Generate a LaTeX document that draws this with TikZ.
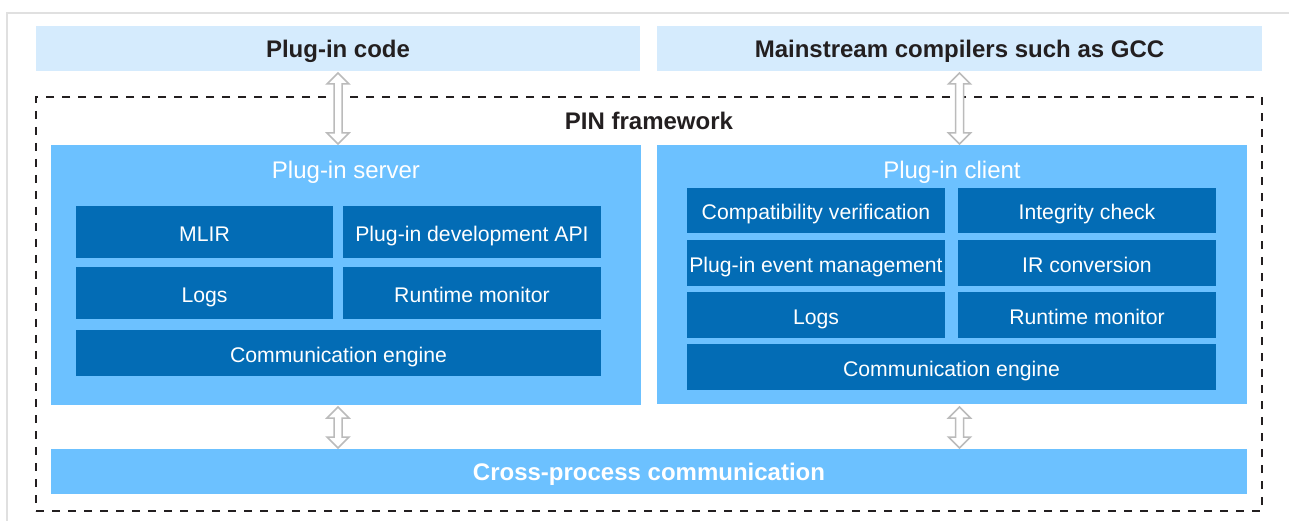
\documentclass[tikz,border=0pt]{standalone}
\usepackage{fontspec}
\setmainfont{Liberation Sans}
\usetikzlibrary{calc}
\definecolor{lightbox}{HTML}{D5EBFD}
\definecolor{midbox}{HTML}{6CC1FF}
\definecolor{darkbox}{HTML}{036CB5}
\definecolor{ink}{HTML}{231F20}
\definecolor{arrowgray}{HTML}{BBBBBB}
\definecolor{framegray}{HTML}{E0E0E0}
\tikzset{
  area/.style={inner sep=0pt, outer sep=0pt, anchor=north west},
  topbox/.style={area, fill=lightbox, text=ink, font=\bfseries\fontsize{24}{28}\selectfont, text height=20pt, text depth=2pt},
  container/.style={area, fill=midbox},
  crossbox/.style={area, fill=midbox, text=white, font=\bfseries\fontsize{24}{28}\selectfont, text height=20pt, text depth=2pt},
  module/.style={area, fill=darkbox, text=white, font=\fontsize{21.2}{24}\selectfont, text height=20pt, text depth=1pt},
  title/.style={inner sep=0pt, text=white, font=\fontsize{24}{28}\selectfont, text height=19pt, text depth=2pt},
  frametitle/.style={inner sep=0pt, text=ink, font=\bfseries\fontsize{24}{28}\selectfont, text height=19pt, text depth=2pt},
  dashframe/.style={area, draw=ink, line width=2pt, dash pattern=on 8pt off 8pt},
  hollow/.style={draw=arrowgray, fill=white, line width=1.5pt, line join=miter},
}
\newcommand\hollowarrow[2]{%
  \draw[hollow] let \p1=(#1), \p2=(#2) in
    (\x1,\y1) -- (\x1+11pt,\y1-11pt) -- (\x1+4pt,\y1-11pt) -- (\x1+4pt,\y2+11pt)
    -- (\x1+11pt,\y2+11pt) -- (\x2,\y2) -- (\x1-11pt,\y2+11pt) -- (\x1-4pt,\y2+11pt)
    -- (\x1-4pt,\y1-11pt) -- (\x1-11pt,\y1-11pt) -- cycle;}
\begin{document}
\begin{tikzpicture}[x=1pt,y=-1pt]
\useasboundingbox (0,0) rectangle (1289,521);
\fill[white] (0,0) rectangle (1289,521);
% outer light frame
\draw[framegray, line width=2.5pt] (7,521) -- (7,13) -- (1289,13);
% top boxes
\node[topbox, minimum width=604pt, minimum height=45pt] (code) at (36,26) {Plug-in code};
\node[topbox, minimum width=605pt, minimum height=45pt] (gcc) at (657,26) {Mainstream compilers such as GCC};
% PIN framework dashed frame
\node[dashframe, minimum width=1226pt, minimum height=414pt] (pin) at (36,97) {};
\node[frametitle] (pintitle) at (649,121) {PIN framework};
% containers
\node[container, minimum width=590pt, minimum height=260pt] (server) at (51,145) {};
\node[container, minimum width=590pt, minimum height=259pt] (client) at (657,145) {};
\node[crossbox, minimum width=1196pt, minimum height=45pt] (cross) at (51,449) {Cross-process communication};
\node[title] (servertitle) at (346,170) {Plug-in server};
\node[title] (clienttitle) at (952,170) {Plug-in client};
% server modules
\node[module, minimum width=257pt, minimum height=52pt] (mlir) at (76,206) {MLIR};
\node[module, minimum width=258pt, minimum height=52pt] (api) at (343,206) {Plug-in development API};
\node[module, minimum width=257pt, minimum height=52pt] (slogs) at (76,267) {Logs};
\node[module, minimum width=258pt, minimum height=52pt] (smon) at (343,267) {Runtime monitor};
\node[module, minimum width=525pt, minimum height=46pt] (scomm) at (76,330) {Communication engine};
% client modules
\node[module, minimum width=258pt, minimum height=45pt] (compat) at (687,188) {Compatibility verification};
\node[module, minimum width=258pt, minimum height=45pt] (integ) at (958,188) {Integrity check};
\node[module, minimum width=258pt, minimum height=46pt] (event) at (687,240) {Plug-in event management};
\node[module, minimum width=258pt, minimum height=46pt] (irconv) at (958,240) {IR conversion};
\node[module, minimum width=258pt, minimum height=46pt] (clogs) at (687,292) {Logs};
\node[module, minimum width=258pt, minimum height=46pt] (cmon) at (958,292) {Runtime monitor};
\node[module, minimum width=529pt, minimum height=46pt] (ccomm) at (687,344) {Communication engine};
% arrow end points
\coordinate (a1t) at ($(code.south)+(0,2)$);
\coordinate (a1b) at ($(code.south |- server.north)+(0,-1)$);
\coordinate (a2t) at ($(gcc.south)+(0,2)$);
\coordinate (a2b) at ($(gcc.south |- client.north)+(0,-1)$);
\coordinate (a3t) at ($(code.south |- server.south)+(0,2)$);
\coordinate (a3b) at ($(code.south |- cross.north)+(0,-1)$);
\coordinate (a4t) at ($(gcc.south |- client.south)+(0,3)$);
\coordinate (a4b) at ($(gcc.south |- cross.north)+(0,-1)$);
\hollowarrow{a1t}{a1b}
\hollowarrow{a2t}{a2b}
\hollowarrow{a3t}{a3b}
\hollowarrow{a4t}{a4b}
\end{tikzpicture}
\end{document}
